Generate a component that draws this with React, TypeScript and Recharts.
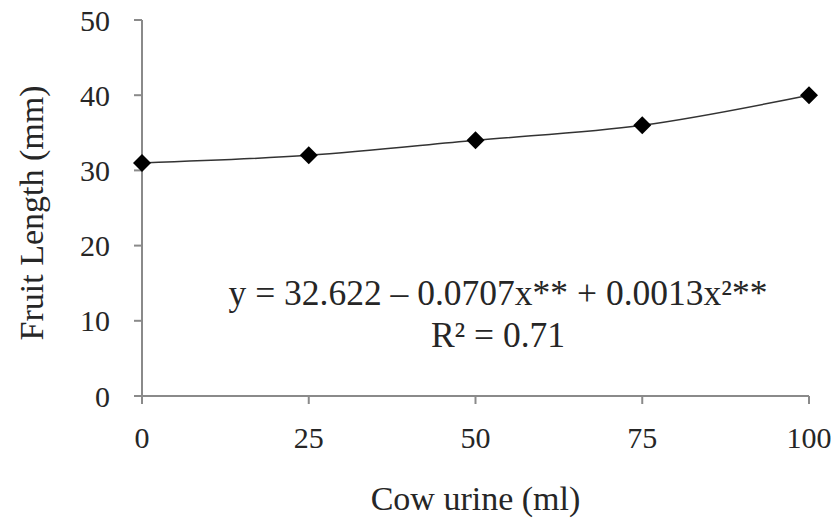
import { LineChart, Line, XAxis, YAxis, Label, Customized } from "recharts"

const cowUrine = [0, 25, 50, 75, 100]
const fruitLength = [31, 32, 34, 36, 40]
const xTicks = [0, 25, 50, 75, 100]
const yTicks = [0, 10, 20, 30, 40, 50]
const equation = "y = 32.622 – 0.0707x** + 0.0013x²**"
const rSquared = "R² = 0.71"

const data = cowUrine.map((x, i) => ({ x, y: fruitLength[i] }))

const font = '"Liberation Serif", "Times New Roman", serif'
const ink = "#262626"
const axisGray = "#8a8a8a"

const Diamond = (props: any) => {
  const { cx, cy } = props
  if (cx == null || cy == null) return null
  const r = 9
  return <polygon points={`${cx},${cy - r} ${cx + r},${cy} ${cx},${cy + r} ${cx - r},${cy}`} fill="#000" />
}

const YTitle = () => (
  <text x={31} y={213} transform="rotate(-90, 31, 213)" textAnchor="middle" dominantBaseline="central"
    fontFamily={font} fontSize={34} fill={ink}>
    Fruit Length (mm)
  </text>
)

const Equation = () => (
  <g fontFamily={font} fill={ink} textAnchor="middle">
    <text x={498} y={305} fontSize={35.5}>{equation}</text>
    <text x={498} y={347} fontSize={35.5}>{rSquared}</text>
  </g>
)

export default function App() {
  return (
    <div style={{ position: "absolute", left: 0, top: 0, background: "#fff" }}>
      <LineChart width={839} height={520} data={data} margin={{ top: 20, right: 30, left: 0, bottom: 0 }}>
        <XAxis dataKey="x" type="number" domain={[0, 100]} ticks={xTicks} height={124}
          stroke={axisGray} strokeWidth={2} tickSize={8} tickMargin={23}
          tick={{ fontFamily: font, fontSize: 30, fill: ink }}>
          <Label value="Cow urine (ml)" position="insideBottom" offset={10}
            style={{ fontFamily: font, fontSize: 34, fill: ink }} />
        </XAxis>
        <YAxis type="number" domain={[0, 50]} ticks={yTicks} width={142}
          stroke={axisGray} strokeWidth={2} tickSize={8} tickMargin={24}
          tick={{ fontFamily: font, fontSize: 30, fill: ink }}>
          <Label content={<YTitle />} />
        </YAxis>
        <Line dataKey="y" type="monotone" stroke="#333" strokeWidth={1.5}
          dot={<Diamond />} activeDot={false} isAnimationActive={false} />
        <Customized component={<Equation />} />
      </LineChart>
    </div>
  )
}
